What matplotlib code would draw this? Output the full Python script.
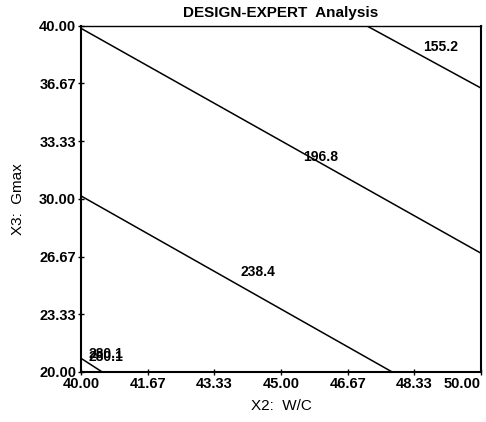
import matplotlib
matplotlib.use("Agg")
import matplotlib.pyplot as plt

plt.rcParams["font.family"] = ["Liberation Sans", "DejaVu Sans"]

# Contour lines (endpoints in data units)
levels = ["155.2", "196.8", "238.4", "280.1"]
line_x = [[47.14, 50.00], [40.00, 50.00], [40.00, 47.78], [40.00, 40.53]]
line_y = [[40.00, 36.40], [39.85, 26.86], [30.17, 20.00], [20.79, 20.00]]

# Contour label positions
label_text = ["155.2", "196.8", "238.4", "280.1", "280.1"]
label_x = [49.00, 46.00, 44.42, 40.62, 40.62]
label_y = [38.76, 32.43, 25.75, 21.04, 20.87]

# Tick labels
x_ticks = [40.00, 41.67, 43.33, 45.00, 46.67, 48.33, 50.00]
y_ticks = [20.00, 23.33, 26.67, 30.00, 33.33, 36.67, 40.00]

fig = plt.figure(figsize=(4.86, 4.22), dpi=100)
ax = fig.add_axes([0.1667, 0.1185, 0.823, 0.8205])

for xs, ys in zip(line_x, line_y):
    ax.plot(xs, ys, color="black", linewidth=1.1)

for t, x, y in zip(label_text, label_x, label_y):
    ax.text(x, y, t, ha="center", va="center", fontsize=10, fontweight="bold")

ax.set_xlim(40, 50)
ax.set_ylim(20, 40)
ax.set_xticks(x_ticks)
ax.set_yticks(y_ticks)
ax.set_xticklabels(["%.2f" % v for v in x_ticks], fontsize=10.5, fontweight="bold")
ax.set_yticklabels(["%.2f" % v for v in y_ticks], fontsize=10.5, fontweight="bold")
ax.get_xticklabels()[-1].set_horizontalalignment("right")
ax.tick_params(direction="inout", length=5, width=1, pad=1)

for side in ["left", "bottom", "right"]:
    ax.spines[side].set_linewidth(1.5)
ax.spines["top"].set_linewidth(1.0)

ax.set_title("DESIGN-EXPERT  Analysis", fontsize=11, fontweight="bold", pad=6)
ax.set_xlabel("X2:  W/C", fontsize=11, labelpad=6)
ax.set_ylabel("X3:  Gmax", fontsize=11, labelpad=10)

fig.savefig("out.png", dpi=100)
